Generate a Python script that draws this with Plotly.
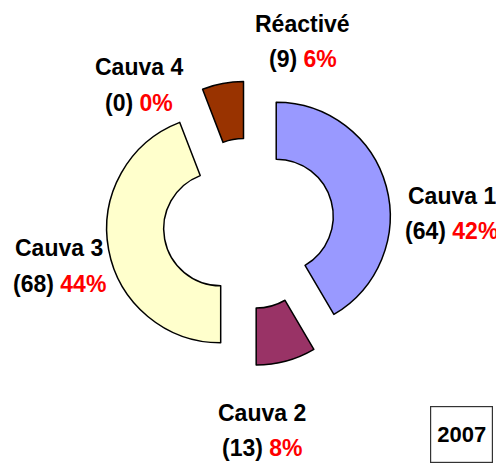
import plotly.graph_objects as go

labels = ["Cauva 1", "Cauva 2", "Cauva 3", "Cauva 4", "Réactivé"]
values = [64, 13, 68, 0, 9]
colors = ["#9999FF", "#993366", "#FFFFCC", "#CCFFFF", "#993300"]
year_label = "2007"

# figure is offset by the 8px default page margin, so it is sized to fit the window
W, H = 496, 456

# label anchor positions (paper fractions) for the first line of each category
label_pos = [
    (0.8946, 0.5888),  # Cauva 1
    (0.5121, 0.1129),  # Cauva 2
    (0.1038, 0.4737),  # Cauva 3
    (0.2651, 0.8706),  # Cauva 4
    (0.5938, 0.9656),  # Réactivé
]
line_gap = 0.078

total = sum(values)
FONT = "Liberation Sans, Arial, sans-serif"

# no outline for empty slices (avoids a stray zero-width line)
line_widths = [1.5 if v > 0 else 0 for v in values]

fig = go.Figure()
fig.add_trace(go.Pie(
    labels=labels,
    values=values,
    sort=False,
    direction="clockwise",
    rotation=0,
    hole=0.5,
    pull=[0.25] * len(values),
    marker=dict(colors=colors, line=dict(color="black", width=line_widths)),
    textinfo="none",
    hoverinfo="skip",
    showlegend=False,
    domain=dict(x=[0.198, 0.7726], y=[0.2147, 0.8397]),
))

annotations = []
for lab, val, (x, y) in zip(labels, values, label_pos):
    pct = round(100 * val / total)
    annotations.append(dict(
        x=x, y=y, xref="paper", yref="paper", xanchor="center", yanchor="middle",
        text=f"<b>{lab}</b>", showarrow=False,
        font=dict(family=FONT, size=23, color="black"),
    ))
    annotations.append(dict(
        x=x, y=y - line_gap, xref="paper", yref="paper", xanchor="center", yanchor="middle",
        text=f"<b>({val}) <span style='color:#FF0000'>{pct}%</span></b>", showarrow=False,
        font=dict(family=FONT, size=23, color="black"),
    ))

annotations.append(dict(
    x=0.9153, y=0.0647, xref="paper", yref="paper", xanchor="center", yanchor="middle",
    text=f"<b>{year_label}</b>", showarrow=False,
    font=dict(family=FONT, size=22, color="black"),
    bordercolor="#333333", borderwidth=1.2, borderpad=0,
    width=61, height=55, bgcolor="white",
))

fig.update_layout(
    width=W, height=H,
    margin=dict(l=0, r=0, t=0, b=0),
    paper_bgcolor="white", plot_bgcolor="white",
    annotations=annotations,
)

fig.write_html("out.html")
